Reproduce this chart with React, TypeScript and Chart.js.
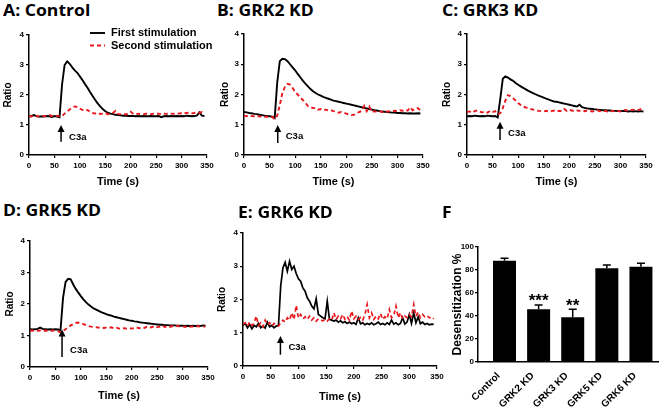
import React, { useEffect, useRef } from "react";
import { Chart, registerables } from "chart.js";
Chart.register(...registerables);

const FAMILY = "'Liberation Sans', Arial, Helvetica, sans-serif";
const TITLE_FAMILY = "'Open Sans', 'Noto Sans', sans-serif";
const RED = "#e8191e";

// ---------- time axes (s) ----------
const T5 = [0,5,10,15,20,25,30,35,40,45,50,55,60,65,70,75,80,85,90,95,100,105,110,115,120,125,130,135,140,145,150,155,160,165,170,175,180,185,190,195,200,205,210,215,220,225,230,235,240,245,250,255,260,265,270,275,280,285,290,295,300,305,310,315,320,325,330,335,340,345];
const T4 = [0,4,8,12,16,20,24,28,32,36,40,44,48,52,56,60,64,68,72,76,80,84,88,92,96,100,104,108,112,116,120,124,128,132,136,140,144,148,152,156,160,164,168,172,176,180,184,188,192,196,200,204,208,212,216,220,224,228,232,236,240,244,248,252,256,260,264,268,272,276,280,284,288,292,296,300,304,308,312,316,320,324,328,332,336,340,344];

// ---------- A: Control ----------
const A_FIRST = [
  1.28,1.30,1.33,1.29,1.28,1.29,1.28,1.30,1.29,1.27,
  1.30,1.28,1.26,2.35,3.00,3.12,3.04,2.92,2.82,2.74,
  2.62,2.50,2.37,2.24,2.10,1.97,1.84,1.72,1.62,1.53,
  1.46,1.41,1.38,1.36,1.34,1.33,1.32,1.31,1.31,1.30,
  1.30,1.30,1.29,1.30,1.29,1.30,1.29,1.29,1.30,1.29,
  1.29,1.30,1.26,1.29,1.30,1.29,1.30,1.29,1.30,1.29,
  1.30,1.29,1.31,1.30,1.29,1.30,1.31,1.42,1.31,1.30];
const A_SECOND = [
  1.30,1.28,1.32,1.30,1.28,1.31,1.29,1.30,1.33,1.30,
  1.28,1.31,1.29,1.30,1.38,1.45,1.52,1.58,1.62,1.60,
  1.55,1.50,1.47,1.50,1.44,1.40,1.38,1.41,1.37,1.38,
  1.40,1.36,1.37,1.40,1.47,1.37,1.36,1.38,1.35,1.37,
  1.44,1.37,1.36,1.38,1.37,1.36,1.38,1.37,1.36,1.38,
  1.37,1.38,1.36,1.38,1.37,1.39,1.38,1.37,1.39,1.38,
  1.40,1.39,1.40,1.41,1.39,1.40,1.42,1.41,1.43,1.40];

// ---------- B: GRK2 KD ----------
const B_FIRST = [
  1.42,1.41,1.39,1.38,1.36,1.35,1.33,1.32,1.30,1.29,
  1.28,1.27,1.22,2.40,3.10,3.18,3.17,3.10,3.00,2.90,
  2.80,2.68,2.57,2.46,2.36,2.27,2.18,2.11,2.05,2.00,
  1.96,1.92,1.89,1.86,1.83,1.80,1.78,1.76,1.74,1.72,
  1.70,1.68,1.66,1.64,1.62,1.60,1.58,1.56,1.54,1.52,
  1.50,1.48,1.47,1.45,1.44,1.43,1.42,1.41,1.40,1.40,
  1.39,1.39,1.38,1.38,1.37,1.38,1.37,1.37,1.38,1.37];
const B_SECOND = [
  1.30,1.28,1.31,1.29,1.28,1.30,1.27,1.28,1.26,1.27,
  1.25,1.26,1.18,1.30,1.65,2.05,2.25,2.35,2.33,2.22,
  2.08,2.00,1.90,1.82,1.72,1.62,1.58,1.55,1.56,1.50,
  1.52,1.48,1.50,1.47,1.48,1.45,1.43,1.40,1.42,1.40,
  1.37,1.34,1.32,1.33,1.38,1.42,1.45,1.62,1.45,1.60,
  1.42,1.45,1.42,1.44,1.42,1.45,1.43,1.45,1.44,1.46,
  1.45,1.48,1.46,1.50,1.47,1.58,1.48,1.52,1.55,1.48];

// ---------- C: GRK3 KD ----------
const C_FIRST = [
  1.28,1.29,1.28,1.30,1.29,1.28,1.29,1.28,1.30,1.29,
  1.28,1.29,1.24,1.85,2.52,2.60,2.56,2.50,2.45,2.38,
  2.32,2.27,2.22,2.17,2.12,2.08,2.04,2.00,1.96,1.93,
  1.90,1.86,1.83,1.80,1.77,1.76,1.74,1.72,1.70,1.68,
  1.66,1.64,1.62,1.60,1.66,1.58,1.56,1.54,1.53,1.52,
  1.51,1.50,1.49,1.48,1.48,1.47,1.47,1.46,1.46,1.45,
  1.45,1.46,1.45,1.44,1.45,1.44,1.45,1.44,1.45,1.44];
const C_SECOND = [
  1.42,1.44,1.40,1.45,1.47,1.43,1.41,1.44,1.40,1.46,
  1.42,1.45,1.35,1.38,1.55,1.80,1.98,1.95,1.88,1.80,
  1.72,1.65,1.60,1.57,1.55,1.52,1.50,1.48,1.46,1.45,
  1.44,1.46,1.43,1.45,1.47,1.44,1.46,1.45,1.52,1.46,
  1.50,1.47,1.45,1.47,1.46,1.48,1.45,1.47,1.46,1.44,
  1.46,1.48,1.45,1.47,1.46,1.44,1.47,1.45,1.48,1.46,
  1.44,1.47,1.49,1.46,1.48,1.50,1.47,1.49,1.51,1.49];

// ---------- D: GRK5 KD ----------
const D_FIRST = [
  1.20,1.19,1.20,1.21,1.25,1.21,1.20,1.19,1.20,1.19,
  1.20,1.19,1.17,2.20,2.70,2.80,2.78,2.62,2.48,2.36,
  2.25,2.15,2.06,1.98,1.92,1.86,1.82,1.78,1.74,1.71,
  1.68,1.65,1.63,1.60,1.58,1.56,1.54,1.52,1.50,1.48,
  1.47,1.45,1.44,1.42,1.41,1.40,1.39,1.38,1.37,1.36,
  1.35,1.34,1.34,1.33,1.33,1.32,1.32,1.32,1.31,1.31,
  1.31,1.30,1.31,1.30,1.31,1.30,1.31,1.30,1.32,1.31];
const D_SECOND = [
  1.16,1.15,1.17,1.15,1.16,1.14,1.16,1.15,1.14,1.16,
  1.15,1.14,1.10,1.14,1.20,1.26,1.32,1.36,1.40,1.41,
  1.39,1.36,1.33,1.30,1.28,1.27,1.26,1.25,1.26,1.24,
  1.25,1.24,1.26,1.23,1.25,1.22,1.24,1.23,1.22,1.24,
  1.22,1.23,1.25,1.23,1.26,1.24,1.28,1.25,1.27,1.30,
  1.26,1.28,1.32,1.27,1.29,1.27,1.30,1.28,1.31,1.28,
  1.29,1.27,1.30,1.28,1.29,1.27,1.30,1.28,1.29,1.28];

// ---------- E: GRK6 KD ----------
const E_FIRST = [
  1.22,1.28,1.15,1.25,1.12,1.22,1.18,1.28,1.15,1.20,
  1.14,1.32,1.18,1.22,1.15,1.20,1.22,2.40,2.95,3.12,
  2.85,3.15,2.90,3.00,2.78,2.62,2.55,2.35,2.25,2.05,
  1.95,1.80,1.72,2.02,1.55,1.50,1.45,1.42,1.95,1.40,
  1.38,1.35,1.38,1.32,1.36,1.30,1.33,1.28,1.32,1.27,
  1.30,1.25,1.45,1.27,1.30,1.24,1.28,1.25,1.30,1.24,
  1.27,1.32,1.25,1.28,1.24,1.30,1.25,1.38,1.26,1.30,
  1.24,1.28,1.45,1.26,1.32,1.55,1.28,1.60,1.30,1.48,
  1.27,1.32,1.25,1.28,1.24,1.26,1.25];
const E_SECOND = [
  1.25,1.30,1.20,1.32,1.22,1.28,1.50,1.22,1.30,1.18,
  1.38,1.25,1.30,1.20,1.28,1.22,1.20,1.30,1.38,1.32,
  1.45,1.38,1.60,1.40,1.82,1.45,1.55,1.42,1.48,1.40,
  1.50,1.38,1.45,1.35,1.42,1.38,1.36,1.40,1.35,1.42,
  1.38,1.60,1.40,1.50,1.42,1.55,1.40,1.48,1.38,1.65,
  1.42,1.50,1.40,1.46,1.38,1.55,1.85,1.45,1.60,1.40,
  1.50,1.42,1.58,1.40,1.48,1.42,1.70,1.45,1.52,1.80,
  1.45,1.60,1.42,1.50,1.45,1.55,1.48,1.85,1.50,1.62,
  1.45,1.55,1.48,1.52,1.45,1.48,1.42];

// ---------- F: desensitization ----------
const CATEGORIES = ["Control", "GRK2 KD", "GRK3 KD", "GRK5 KD", "GRK6 KD"];
const DESENS = [88, 45.8, 38.9, 81.5, 82.9];
const SEM = [2.2, 3.8, 6.9, 2.8, 2.9];
const SIGNIF = ["", "***", "**", "", ""];

const STIM_LABEL = "C3a";

function c3aPlugin(arrow: any) {
  return {
    id: "c3a",
    afterDatasetsDraw(chart: any) {
      const { ctx, scales } = chart;
      const px = scales.x.getPixelForValue(arrow.x);
      const tip = scales.y.getPixelForValue(arrow.tip);
      const tail = scales.y.getPixelForValue(arrow.tail);
      ctx.save();
      ctx.strokeStyle = "#000";
      ctx.fillStyle = "#000";
      ctx.lineWidth = 1.5;
      ctx.beginPath();
      ctx.moveTo(px, tail);
      ctx.lineTo(px, tip + 5);
      ctx.stroke();
      ctx.beginPath();
      ctx.moveTo(px, tip);
      ctx.lineTo(px - 3.5, tip + 7);
      ctx.lineTo(px + 3.5, tip + 7);
      ctx.closePath();
      ctx.fill();
      ctx.font = `bold 9.5px ${FAMILY}`;
      ctx.textAlign = "left";
      ctx.textBaseline = "middle";
      ctx.fillText(STIM_LABEL, px + 8, scales.y.getPixelForValue(arrow.text));
      ctx.restore();
    },
  };
}

const legendPlugin = {
  id: "stimLegend",
  afterDraw(chart: any) {
    const { ctx, chartArea } = chart;
    const x0 = chartArea.left + 61;
    const x1 = x0 + 15;
    const tx = x1 + 6;
    const y1 = chartArea.top - 2;
    const y2 = y1 + 12.5;
    ctx.save();
    ctx.lineWidth = 1.9;
    ctx.strokeStyle = "#000";
    ctx.beginPath();
    ctx.moveTo(x0, y1);
    ctx.lineTo(x1, y1);
    ctx.stroke();
    ctx.strokeStyle = RED;
    ctx.setLineDash([4, 3]);
    ctx.beginPath();
    ctx.moveTo(x0, y2);
    ctx.lineTo(x1, y2);
    ctx.stroke();
    ctx.setLineDash([]);
    ctx.fillStyle = "#000";
    ctx.font = `bold 11px ${FAMILY}`;
    ctx.textAlign = "left";
    ctx.textBaseline = "middle";
    ctx.fillText(chart.data.datasets[0].label, tx, y1);
    ctx.fillText(chart.data.datasets[1].label, tx, y2);
    ctx.restore();
  },
};

const tickFont = { family: FAMILY, size: 8, weight: "bold" as const };

function LinePanel({ cfg }: { cfg: any }) {
  const ref = useRef<HTMLCanvasElement>(null);
  const left = cfg.yTitleX - 8;
  const top = cfg.area.t - cfg.padTop;
  const width = cfg.area.r + cfg.padRight - left;
  const height = cfg.xTitleY + 8 - top;
  const yAxisW = cfg.area.l - left;
  const xAxisH = cfg.xTitleY + 8 - cfg.area.b;
  useEffect(() => {
    const plugins: any[] = [c3aPlugin(cfg.arrow)];
    if (cfg.legend) plugins.push(legendPlugin);
    const chart = new Chart(ref.current as HTMLCanvasElement, {
      type: "line",
      data: {
        datasets: [
          {
            label: "First stimulation",
            data: cfg.times.map((t: number, i: number) => ({ x: t, y: cfg.first[i] })),
            borderColor: "#000",
            borderWidth: cfg.lw,
            pointRadius: 0,
            tension: 0,
            order: 1,
          },
          {
            label: "Second stimulation",
            data: cfg.times.map((t: number, i: number) => ({ x: t, y: cfg.second[i] })),
            borderColor: RED,
            borderWidth: cfg.lw,
            borderDash: [4, 3],
            pointRadius: 0,
            tension: 0,
            order: 0,
          },
        ],
      },
      options: {
        responsive: false,
        animation: false,
        events: [],
        layout: { padding: { top: cfg.padTop, right: cfg.padRight, left: 0, bottom: 0 } },
        plugins: { legend: { display: false }, tooltip: { enabled: false } },
        scales: {
          x: {
            type: "linear",
            min: 0,
            max: 350,
            afterFit: (s: any) => { s.height = xAxisH; },
            ticks: { stepSize: 50, padding: 3, color: "#000", font: tickFont, maxRotation: 0, autoSkip: false },
            grid: { drawOnChartArea: false, tickLength: 3, color: "#000", lineWidth: 1.2 },
            border: { color: "#000", width: 1.5 },
            title: {
              display: true,
              text: "Time (s)",
              color: "#000",
              font: { family: FAMILY, size: 11, weight: "bold" },
              padding: { top: 0, bottom: 1.4 },
            },
          },
          y: {
            type: "linear",
            min: 0,
            max: 4,
            afterFit: (s: any) => { s.width = yAxisW; },
            ticks: { stepSize: 1, padding: 2, color: "#000", font: tickFont },
            grid: { drawOnChartArea: false, tickLength: 3, color: "#000", lineWidth: 1.2 },
            border: { color: "#000", width: 1.5 },
            title: {
              display: true,
              text: "Ratio",
              color: "#000",
              font: { family: FAMILY, size: 10, weight: "bold" },
              padding: { top: 2, bottom: 0 },
            },
          },
        },
      } as any,
      plugins,
    });
    return () => chart.destroy();
  }, []);
  return (
    <canvas
      ref={ref}
      width={width}
      height={height}
      style={{ position: "absolute", left, top, width, height }}
    />
  );
}

const errorPlugin = {
  id: "errorBars",
  afterDatasetsDraw(chart: any) {
    const { ctx } = chart;
    const y = chart.scales.y;
    const meta = chart.getDatasetMeta(0);
    ctx.save();
    ctx.strokeStyle = "#000";
    ctx.fillStyle = "#000";
    ctx.lineWidth = 1.5;
    meta.data.forEach((bar: any, i: number) => {
      const base = y.getPixelForValue(DESENS[i]);
      const top = y.getPixelForValue(DESENS[i] + SEM[i]);
      ctx.beginPath();
      ctx.moveTo(bar.x, base);
      ctx.lineTo(bar.x, top);
      ctx.moveTo(bar.x - 4, top);
      ctx.lineTo(bar.x + 4, top);
      ctx.stroke();
      if (SIGNIF[i]) {
        ctx.font = `bold 17px ${FAMILY}`;
        ctx.textAlign = "center";
        ctx.textBaseline = "alphabetic";
        ctx.fillText(SIGNIF[i], bar.x, top + 1.5);
      }
    });
    ctx.restore();
  },
};

function BarPanel() {
  const ref = useRef<HTMLCanvasElement>(null);
  const area = { l: 478, r: 658, t: 247, b: 362 };
  const yTitleX = 458;
  const left = yTitleX - 8;
  const top = area.t - 10;
  const width = 662 - left;
  const height = 409 - top;
  const yAxisW = area.l - left;
  const xAxisH = 409 - area.b;
  useEffect(() => {
    const chart = new Chart(ref.current as HTMLCanvasElement, {
      type: "bar",
      data: {
        datasets: [
          {
            label: "Desensitization %",
            data: DESENS.map((v, i) => ({ x: i, y: v })),
            backgroundColor: "#000",
            borderWidth: 0,
            barPercentage: 0.674,
            categoryPercentage: 1,
          },
        ],
      },
      options: {
        responsive: false,
        animation: false,
        events: [],
        layout: { padding: { top: 10, right: 662 - area.r, left: 0, bottom: 0 } },
        plugins: { legend: { display: false }, tooltip: { enabled: false } },
        scales: {
          x: {
            type: "linear",
            min: -0.777,
            max: 4.5,
            offset: false,
            afterFit: (s: any) => { s.height = xAxisH; },
            ticks: {
              stepSize: 1,
              includeBounds: false,
              autoSkip: false,
              minRotation: 45,
              maxRotation: 45,
              padding: 0,
              labelOffset: -6,
              color: "#000",
              font: { family: FAMILY, size: 10, weight: "bold" },
              callback: (v: any) => CATEGORIES[v] ?? "",
            },
            grid: { display: false },
            border: { color: "#000", width: 1.5 },
          },
          y: {
            min: 0,
            max: 100,
            afterFit: (s: any) => { s.width = yAxisW; },
            ticks: { stepSize: 20, padding: 1, color: "#000", font: tickFont },
            grid: { drawOnChartArea: false, tickLength: 3, color: "#000", lineWidth: 1.2 },
            border: { color: "#000", width: 1.5 },
            title: {
              display: true,
              text: "Desensitization %",
              color: "#000",
              font: { family: FAMILY, size: 12, weight: "bold" },
              padding: { top: 0.8, bottom: 0 },
            },
          },
        },
      } as any,
      plugins: [errorPlugin],
    });
    return () => chart.destroy();
  }, []);
  return (
    <canvas
      ref={ref}
      width={width}
      height={height}
      style={{ position: "absolute", left, top, width, height }}
    />
  );
}

const PANELS = [
  { key: "A", area: { l: 29, r: 207, t: 35, b: 155 }, yTitleX: 8, xTitleY: 182, padTop: 13, padRight: 10,
    times: T5, first: A_FIRST, second: A_SECOND, arrow: { x: 63, tip: 1.0, tail: 0.44, text: 0.6 }, legend: true, lw: 1.9 },
  { key: "B", area: { l: 244, r: 423, t: 34, b: 155 }, yTitleX: 225, xTitleY: 182, padTop: 10, padRight: 10,
    times: T5, first: B_FIRST, second: B_SECOND, arrow: { x: 66, tip: 0.99, tail: 0.4, text: 0.6 }, lw: 1.9 },
  { key: "C", area: { l: 467, r: 646, t: 34, b: 155 }, yTitleX: 447, xTitleY: 182, padTop: 10, padRight: 10,
    times: T5, first: C_FIRST, second: C_SECOND, arrow: { x: 64.6, tip: 1.1, tail: 0.5, text: 0.72 }, lw: 1.9 },
  { key: "D", area: { l: 30, r: 208, t: 241, b: 367 }, yTitleX: 10, xTitleY: 396, padTop: 10, padRight: 10,
    times: T5, first: D_FIRST, second: D_SECOND, arrow: { x: 63, tip: 1.19, tail: 0.32, text: 0.53 }, lw: 1.9 },
  { key: "E", area: { l: 243, r: 437, t: 233, b: 366 }, yTitleX: 222, xTitleY: 397, padTop: 10, padRight: 10,
    times: T4, first: E_FIRST, second: E_SECOND, arrow: { x: 67.5, tip: 0.9, tail: 0.34, text: 0.57 }, lw: 1.7 },
];

const TITLES = [
  { text: "A: Control", x: 3, y: 10 },
  { text: "B: GRK2 KD", x: 217, y: 10 },
  { text: "C: GRK3 KD", x: 442, y: 10 },
  { text: "D: GRK5 KD", x: 3, y: 210.5 },
  { text: "E: GRK6 KD", x: 238, y: 212 },
  { text: "F", x: 442, y: 212 },
];

export default function App() {
  const fs = 16;
  return (
    <div
      style={{
        position: "fixed",
        left: 0,
        top: 0,
        width: 662,
        height: 409,
        background: "#fff",
        overflow: "hidden",
      }}
    >
      {PANELS.map((p) => (
        <LinePanel key={p.key} cfg={p} />
      ))}
      <BarPanel />
      {TITLES.map((t) => (
        <div
          key={t.text}
          style={{
            position: "absolute",
            left: t.x,
            top: t.y - 0.531 * fs,
            fontFamily: TITLE_FAMILY,
            fontWeight: 700,
            fontSize: fs,
            lineHeight: `${fs}px`,
            whiteSpace: "nowrap",
            color: "#000",
            transform: "scaleX(1.1)",
            transformOrigin: "left center",
          }}
        >
          {t.text}
        </div>
      ))}
    </div>
  );
}
